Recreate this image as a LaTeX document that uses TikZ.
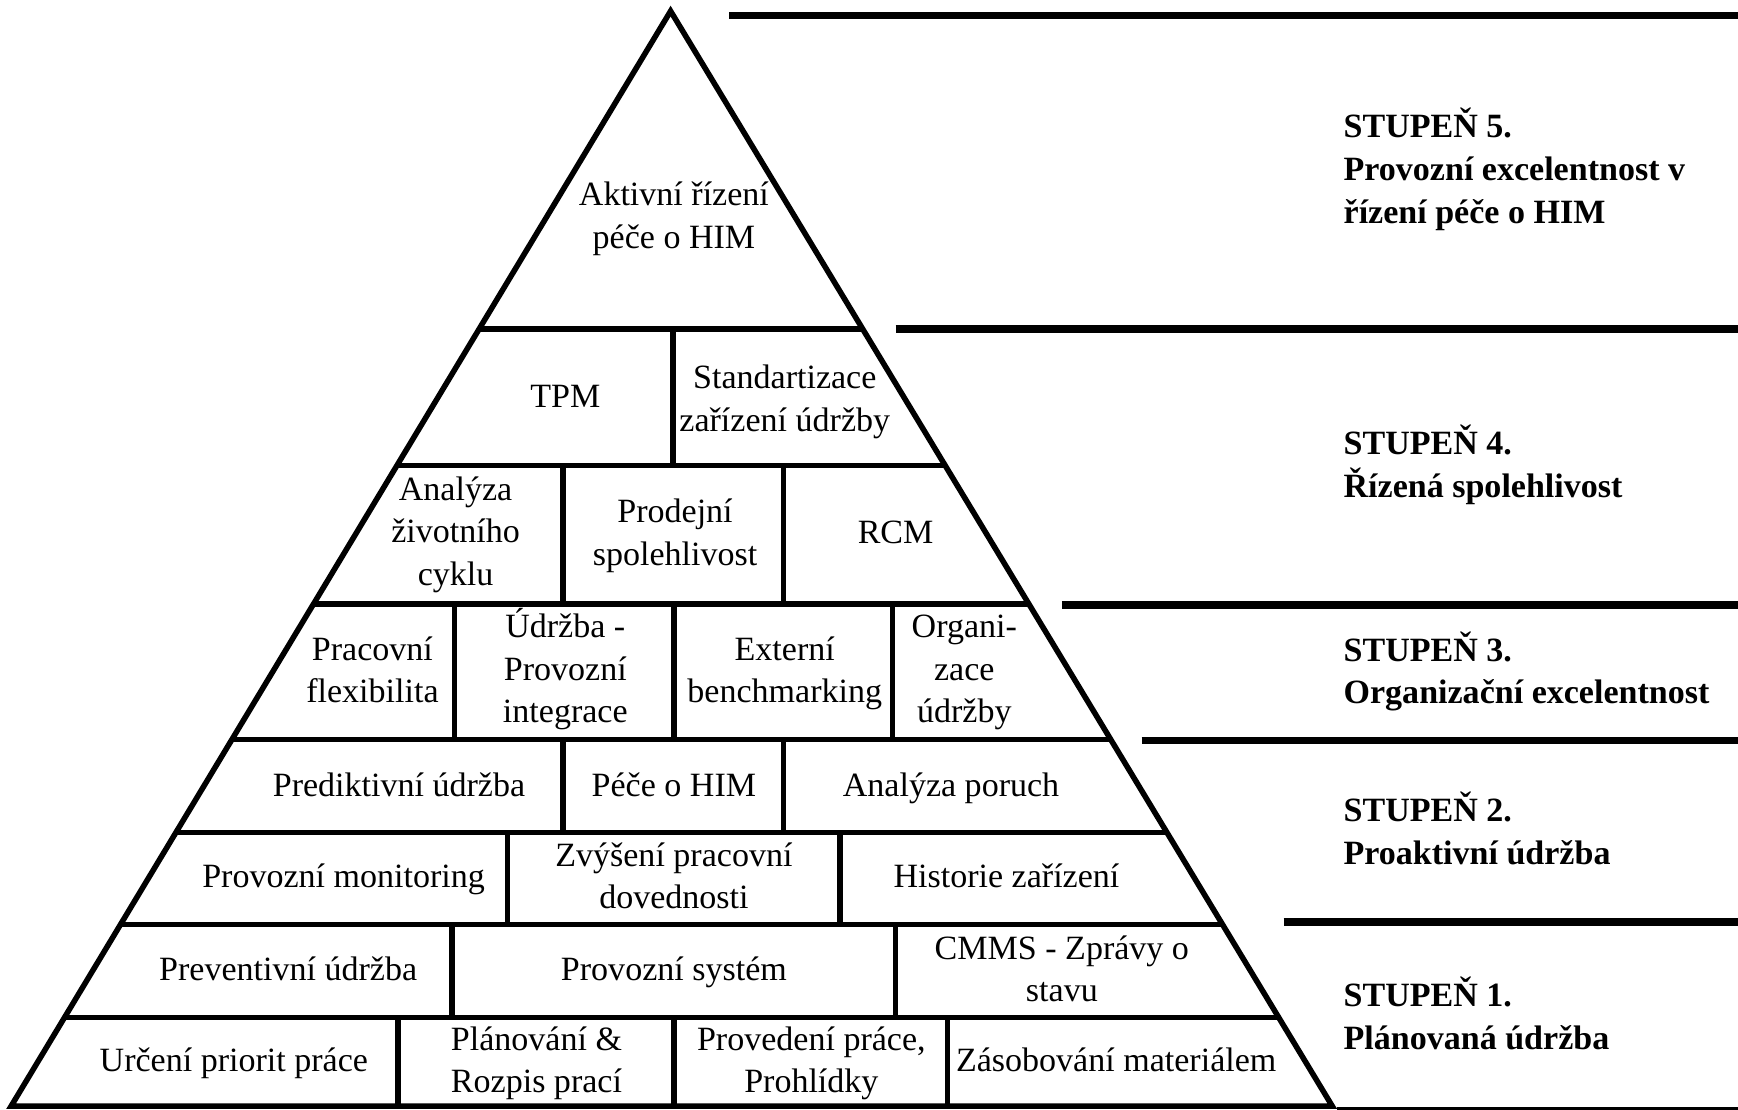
\documentclass[tikz,border=0pt]{standalone}
\usepackage{fontspec}
\setmainfont{Liberation Serif}
\begin{document}
\begin{tikzpicture}[x=1pt,y=-1pt,
  cell/.style={inner sep=0pt, align=center, font=\fontsize{30.7}{38.5}\selectfont},
  level/.style={inner sep=0pt, align=left, anchor=west, font=\fontsize{30.7}{38.5}\selectfont\bfseries},
  frame/.style={line width=5pt, line join=miter, miter limit=20},
  divider/.style={line width=5pt},
  rule/.style={line width=7pt}]
\useasboundingbox (0,0) rectangle (1568,1001);

% pyramid corners
\coordinate (apex) at (605,10);
\coordinate (bl) at (10,998);
\coordinate (br) at (1202,998);

% horizontal row lines, cut to the pyramid
\begin{scope}
  \clip (apex) -- (bl) -- (br) -- cycle;
  \foreach \yy in {297,420,545,667,751,834,918}
    \draw[divider] (0,\yy) -- (1568,\yy);
\end{scope}

% vertical dividers of each row
\foreach \x/\ya/\yb in {607/297/420,
    508/420/545, 707/420/545,
    410/545/667, 608/545/667, 805/545/667,
    508/667/751, 707/667/751,
    458/751/834, 758/751/834,
    408/834/918, 808/834/918,
    359/918/998, 608/918/998, 855/918/998}
  \draw[divider] (\x,\ya) -- (\x,\yb);

% pyramid outline
\draw[frame] (apex) -- (bl) -- (br) -- cycle;

% level separators on the right
\draw[rule] (658,14) -- (1568,14);
\draw[rule] (808,297) -- (1568,297);
\draw[rule] (958,546) -- (1568,546);
\draw[rule] (1030,668) -- (1568,668);
\draw[rule] (1158,832) -- (1568,832);
\draw[rule] (1206,1002) -- (1568,1002);

% cell texts
\node[cell] (ahim) at (608,197) {\strut Aktivní řízení\\\strut péče o HIM};
\node[cell] (tpm) at (510,360) {\strut TPM};
\node[cell] (std) at (708,362) {\strut Standartizace\\\strut zařízení údržby};
\node[cell] (lcc) at (411,482) {\strut Analýza\\\strut životního\\\strut cyklu};
\node[cell] (prod) at (609,483) {\strut Prodejní\\\strut spolehlivost};
\node[cell] (rcm) at (808,483) {\strut RCM};
\node[cell] (flex) at (336,607) {\strut Pracovní\\\strut flexibilita};
\node[cell] (integ) at (510,606) {\strut Údržba -\\\strut Provozní\\\strut integrace};
\node[cell] (bench) at (708,607) {\strut Externí\\\strut benchmarking};
\node[cell] (org) at (870,606) {\strut Organi-\\\strut zace\\\strut údržby};
\node[cell] (pred) at (360,711) {\strut Prediktivní údržba};
\node[cell] (pece) at (608,711) {\strut Péče o HIM};
\node[cell] (poruch) at (858,711) {\strut Analýza poruch};
\node[cell] (monit) at (310,793) {\strut Provozní monitoring};
\node[cell] (skill) at (608,793) {\strut Zvýšení pracovní\\\strut dovednosti};
\node[cell] (hist) at (908,793) {\strut Historie zařízení};
\node[cell] (prev) at (260,877) {\strut Preventivní údržba};
\node[cell] (sys) at (608,877) {\strut Provozní systém};
\node[cell] (cmms) at (958,877) {\strut CMMS - Zprávy o\\\strut stavu};
\node[cell] (prio) at (211,959) {\strut Určení priorit práce};
\node[cell] (plan) at (484,959) {\strut Plánování \&\\\strut Rozpis prací};
\node[cell] (exec) at (732,959) {\strut Provedení práce,\\\strut Prohlídky};
\node[cell] (mat) at (1007,959) {\strut Zásobování materiálem};

% level labels
\node[level] (lev5) at (1212,155) {\strut STUPEŇ 5.\\\strut Provozní excelentnost v\\\strut řízení péče o HIM};
\node[level] (lev4) at (1212,422) {\strut STUPEŇ 4.\\\strut Řízená spolehlivost};
\node[level] (lev3) at (1212,608) {\strut STUPEŇ 3.\\\strut Organizační excelentnost};
\node[level] (lev2) at (1212,753) {\strut STUPEŇ 2.\\\strut Proaktivní údržba};
\node[level] (lev1) at (1212,920) {\strut STUPEŇ 1.\\\strut Plánovaná údržba};
\end{tikzpicture}
\end{document}
